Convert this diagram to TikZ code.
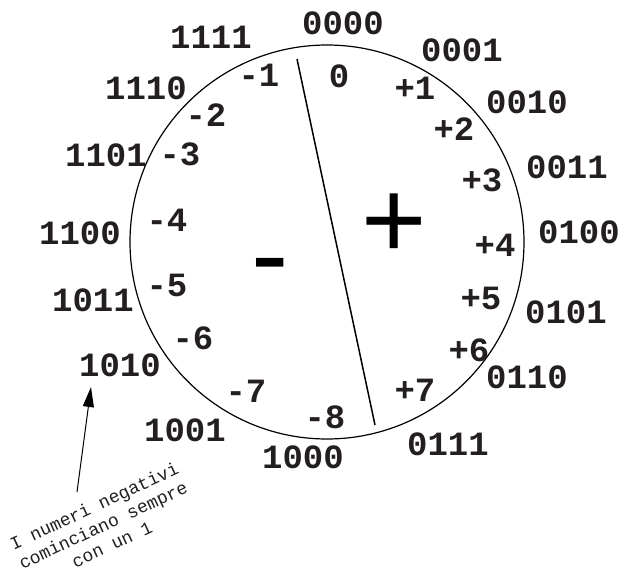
\documentclass[tikz,border=0pt]{standalone}
\usepackage{fontspec}
\newfontfamily\lmono{Liberation Mono}
\newfontfamily\lsans{Liberation Sans}
\usetikzlibrary{arrows.meta}
\definecolor{ink}{HTML}{231F20}
\tikzset{
  lbl/.style={font=\lmono\bfseries\fontsize{34}{34}\selectfont, text=ink, inner sep=0pt},
  sign/.style={font=\lsans\fontsize{112}{112}\selectfont, text=black, inner sep=0pt, anchor=base},
  note/.style={font=\lmono\fontsize{18}{21}\selectfont, text=ink, align=center, rotate=25, inner sep=0pt},
  ring/.style={circle, draw=black, line width=1.2pt, inner sep=0pt, minimum size=394pt},
  divider/.style={draw=black, line width=1.5pt},
  pointer/.style={draw=black, line width=1pt, -{Triangle[length=20pt,width=11pt]}}
}
\begin{document}
\begin{tikzpicture}[x=1pt,y=-1pt]
\useasboundingbox (0,0) rectangle (622,572);
\node[ring] (c) at (327,242) {};
\coordinate (dtop) at (297,59);
\coordinate (dbot) at (375,425);
\draw[divider] (dtop) -- (dbot);
% outer binary labels
\node[lbl] (b0000) at (343,23) {0000};
\node[lbl] (b0001) at (462,50) {0001};
\node[lbl] (b0010) at (527,102) {0010};
\node[lbl] (b0011) at (567,167) {0011};
\node[lbl] (b0100) at (579,232) {0100};
\node[lbl] (b0101) at (566,312) {0101};
\node[lbl] (b0110) at (527,377) {0110};
\node[lbl] (b0111) at (448,444) {0111};
\node[lbl] (b1000) at (303,457) {1000};
\node[lbl] (b1001) at (185,430) {1001};
\node[lbl] (b1010) at (120,365) {1010};
\node[lbl] (b1011) at (93,300) {1011};
\node[lbl] (b1100) at (80,233) {1100};
\node[lbl] (b1101) at (106,155) {1101};
\node[lbl] (b1110) at (146,88) {1110};
\node[lbl] (b1111) at (211,37) {1111};
% inner values
\node[lbl] (v0) at (339,76) {0};
\node[lbl] (vp1) at (415,88) {+1};
\node[lbl] (vp2) at (454,129) {+2};
\node[lbl] (vp3) at (482,180) {+3};
\node[lbl] (vp4) at (495,245) {+4};
\node[lbl] (vp5) at (481,298) {+5};
\node[lbl] (vp6) at (469,350) {+6};
\node[lbl] (vp7) at (415,390) {+7};
\node[lbl] (vm8) at (325,417) {-8};
\node[lbl] (vm7) at (246,391) {-7};
\node[lbl] (vm6) at (193,338) {-6};
\node[lbl] (vm5) at (167,285) {-5};
\node[lbl] (vm4) at (167,220) {-4};
\node[lbl] (vm3) at (180,154) {-3};
\node[lbl] (vm2) at (206,115) {-2};
\node[lbl] (vm1) at (259,75) {-1};
% big signs
\node[sign] (plus) at (394,259) {+};
\node[sign] (minus) at (270,293) {-};
% annotation
\node[note] (nt) at (103,525) {I numeri negativi\\cominciano sempre\\con un 1};
\coordinate (atail) at (77,492);
\coordinate (atip) at (91,387);
\draw[pointer] (atail) -- (atip);
\end{tikzpicture}
\end{document}
